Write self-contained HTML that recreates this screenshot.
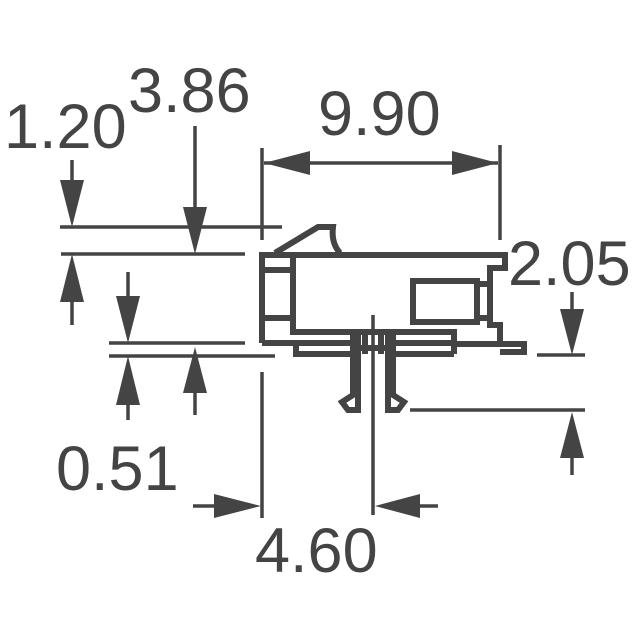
<!DOCTYPE html>
<html><head><style>
html,body{margin:0;padding:0;background:#fff;}
svg{display:block}
text{font-family:"Liberation Sans",Arial,sans-serif;font-size:63px;fill:#444;}
</style></head><body>
<svg width="640" height="640" viewBox="0 0 640 640" xmlns="http://www.w3.org/2000/svg">
<g stroke="#444" stroke-width="3.5" fill="none">
<line x1="60" y1="227" x2="282" y2="227"/>
<line x1="61" y1="254" x2="245" y2="254"/>
<line x1="262" y1="148" x2="262" y2="240"/>
<line x1="500" y1="145" x2="500" y2="240"/>
<line x1="264" y1="163" x2="498" y2="163"/>
<line x1="72" y1="160" x2="72" y2="200"/>
<line x1="72" y1="290" x2="72" y2="325"/>
<line x1="195" y1="126" x2="195" y2="220"/>
<line x1="128" y1="272" x2="128" y2="310"/>
<line x1="109" y1="343" x2="245" y2="343"/>
<line x1="109" y1="356" x2="275" y2="356"/>
<line x1="128" y1="390" x2="128" y2="420"/>
<line x1="195" y1="390" x2="195" y2="415"/>
<line x1="262" y1="372" x2="262" y2="518"/>
<line x1="373" y1="315" x2="373" y2="515"/>
<line x1="193" y1="506" x2="225" y2="506"/>
<line x1="410" y1="506" x2="438" y2="506"/>
<line x1="410" y1="410" x2="585" y2="410"/>
<line x1="572" y1="440" x2="572" y2="475"/>
<line x1="537" y1="355" x2="585" y2="355"/>
<line x1="572" y1="292" x2="572" y2="320"/>
</g>
<g fill="#444">
<polygon points="264,163 310,151 310,175"/>
<polygon points="498,163 452,151 452,175"/>
<polygon points="72,227 60,180 84,180"/>
<polygon points="72,254 60,302 84,302"/>
<polygon points="195,254 183,207 207,207"/>
<polygon points="128,343 116,296 140,296"/>
<polygon points="128,356 116,405 140,405"/>
<polygon points="195,347 183,393 207,393"/>
<polygon points="261,506 214,494 214,518"/>
<polygon points="375,506 420,494 420,518"/>
<polygon points="572,412 560,458 584,458"/>
<polygon points="572,355 560,309 584,309"/>
</g>
<g stroke="#444" stroke-width="6" fill="none" stroke-linejoin="miter">
<polyline points="262,343 262,255 505,255 505,268 490,268 490,325 500,325 500,344 454,344"/>
<polyline points="262,343 355,343"/>
<polyline points="262,270 293,270"/>
<polyline points="262,318 293,318"/>
<polyline points="293,255 293,332 454,332 454,354"/>
<polyline points="296,343 296,354 352,354"/>
<polyline points="388,354 454,354 454,354"/>
<line x1="395" y1="343" x2="454" y2="343"/>
<polyline points="500,344 524,344 524,352 500,352"/>
<rect x="413" y="281" width="64" height="41"/>
<line x1="477" y1="284" x2="490" y2="284"/>
<line x1="477" y1="318" x2="490" y2="318"/>
<path d="M275,253 L318,227 L333,227 Q331,243 340,253"/>
<path d="M353,335 L353,395 L342,402 L348,410 L358,410 L358,335"/>
<path d="M393,335 L393,395 L404,402 L398,410 L388,410 L388,335"/>
<line x1="365" y1="335" x2="365" y2="354"/>
<line x1="381" y1="335" x2="381" y2="354"/>
<line x1="355" y1="348" x2="393" y2="348"/>
</g>
<text x="4" y="148">1.20</text>
<text x="128" y="112">3.86</text>
<text x="318" y="135">9.90</text>
<text x="508" y="285">2.05</text>
<text x="56" y="490">0.51</text>
<text x="255" y="572">4.60</text>
</svg>
</body></html>
